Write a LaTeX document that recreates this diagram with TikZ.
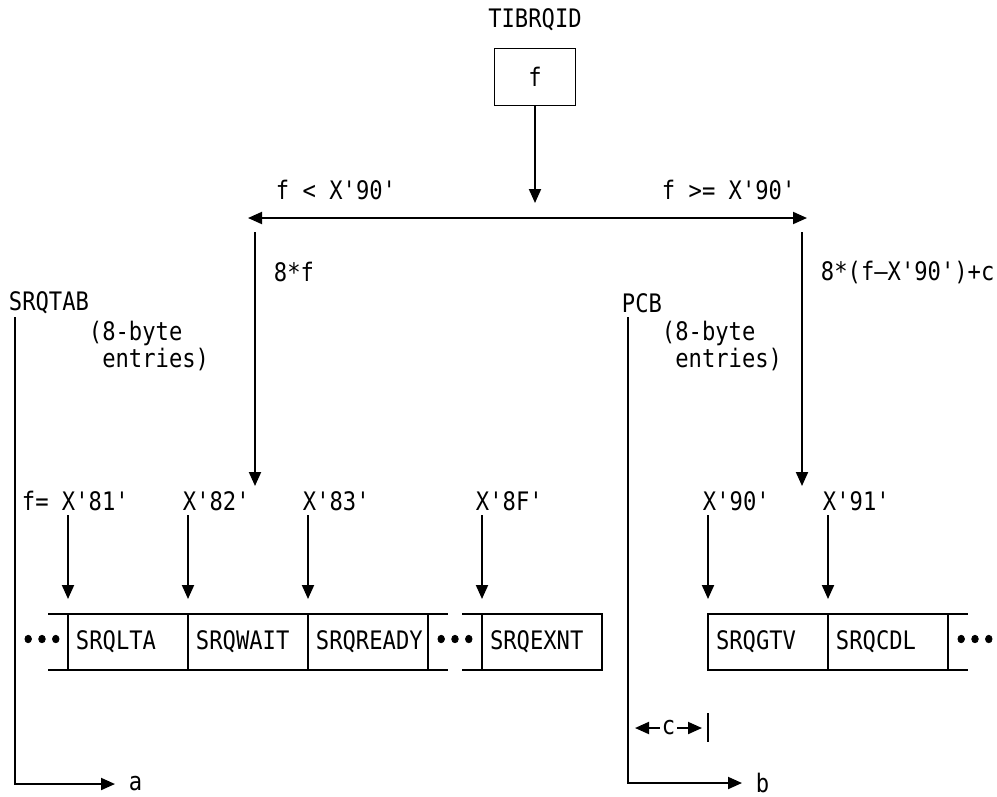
\documentclass[tikz,border=0pt]{standalone}
\usepackage{fontspec}
\setmonofont{DejaVu Sans Mono}[FakeStretch=0.87]
\newfontfamily\dotfont{DejaVu Sans Mono}[FakeStretch=0.87, FakeBold=2.5]
\usetikzlibrary{arrows.meta,positioning}

\tikzset{
  cell/.style={draw, anchor=west, outer sep=0pt, minimum height=1.12cm,
    text width=2.08cm, inner xsep=0.16cm, align=left},
  lbl/.style={anchor=west, inner sep=0pt},
  dots/.style={inner sep=0pt, font=\dotfont\fontsize{15}{15}\selectfont},
}

\begin{document}
\begin{tikzpicture}[x=0.02cm, y=-0.02cm, >={Triangle[length=0.28cm,width=0.24cm]},
  line width=1.1pt, font=\ttfamily\fontsize{14.5}{15.9}\selectfont]
  \useasboundingbox (0,0) rectangle (997,796);

  % index byte and the split
  \node (tibrqid) at (535,20) {TIBRQID};
  \node[draw, minimum width=1.62cm, minimum height=1.14cm] (fbox) at (535,77) {f};
  \coordinate (splitin) at (535,203);
  \draw[->] (fbox) -- (splitin);
  \coordinate (lend) at (248,218);
  \coordinate (rend) at (807,218);
  \draw[<->] (lend) -- (rend);
  \node[lbl] (lt) at (275,190) {f < X'90'};
  \node[lbl] (ge) at (661,190) {f >= X'90'};

  % offsets into the tables
  \coordinate (ltop) at (255,232);
  \coordinate (ltip) at (255,486);
  \draw[->] (ltop) -- (ltip);
  \node[lbl] (lmul) at (273,272) {8*f};
  \coordinate (rtop) at (802,232);
  \coordinate (rtip) at (802,486);
  \draw[->] (rtop) -- (rtip);
  \node[lbl] (rmul) at (820,272) {8*(f—X'90')+c};

  % SRQTAB base
  \node[lbl] (srqtab) at (8,303) {SRQTAB};
  \node[lbl, align=left] (lent) at (88,346) {(8-byte\\\hphantom{(}entries)};
  \coordinate (tabtop) at (15,317);
  \coordinate (tabbot) at (15,784);
  \coordinate (tabend) at (115,784);
  \draw[->] (tabtop) -- (tabbot) -- (tabend);
  \node[lbl] (a) at (128,784) {a};

  % PCB base
  \node[lbl] (pcb) at (621,303) {PCB};
  \node[lbl, align=left] (rent) at (661,346) {(8-byte\\\hphantom{(}entries)};
  \coordinate (pcbtop) at (628,317);
  \coordinate (pcbbot) at (628,783);
  \coordinate (pcbend) at (742,783);
  \draw[->] (pcbtop) -- (pcbbot) -- (pcbend);
  \node[lbl] (b) at (755,783) {b};
  % c
  \coordinate (cl) at (635,728);
  \coordinate (cr) at (702,728);
  \draw[<->] (cl) -- node[fill=white, inner sep=1pt] (cw) {c} (cr);
  \coordinate (cbar1) at (708,713);
  \coordinate (cbar2) at (708,742);
  \draw (cbar1) -- (cbar2);

  % entries
  \node[cell] (lta) at (68,642) {SRQLTA};
  \node[cell, right=0pt of lta] (wait) {SRQWAIT};
  \node[cell, right=0pt of wait] (ready) {SRQREADY};
  \node[cell] (exnt) at (482,642) {SRQEXNT};
  \node[cell] (gtv) at (708,642) {SRQGTV};
  \node[cell, right=0pt of gtv] (cdl) {SRQCDL};
  \draw (lta.north west) -- ++(-20,0) (lta.south west) -- ++(-20,0);
  \draw (ready.north east) -- ++(20,0) (ready.south east) -- ++(20,0);
  \draw (exnt.north west) -- ++(-20,0) (exnt.south west) -- ++(-20,0);
  \draw (cdl.north east) -- ++(20,0) (cdl.south east) -- ++(20,0);
  \node[dots] (dl) at (42,642) {•••};
  \node[dots] (dm) at (455,642) {•••};
  \node[dots] (dr) at (975,642) {•••};

  % f values
  \node[lbl] (x81) at (21,501) {f= X'81'};
  \node[lbl] (x82) at (182,501) {X'82'};
  \node[lbl] (x83) at (302,501) {X'83'};
  \node[lbl] (x8f) at (475,501) {X'8F'};
  \node[lbl] (x90) at (702,501) {X'90'};
  \node[lbl] (x91) at (822,501) {X'91'};
  \foreach \x/\n in {68/1, 188/2, 308/3, 482/4, 708/5, 828/6} {
    \coordinate (in\n) at (\x,515);
    \coordinate (it\n) at (\x,599);
    \draw[->] (in\n) -- (it\n);
  }
\end{tikzpicture}
\end{document}
